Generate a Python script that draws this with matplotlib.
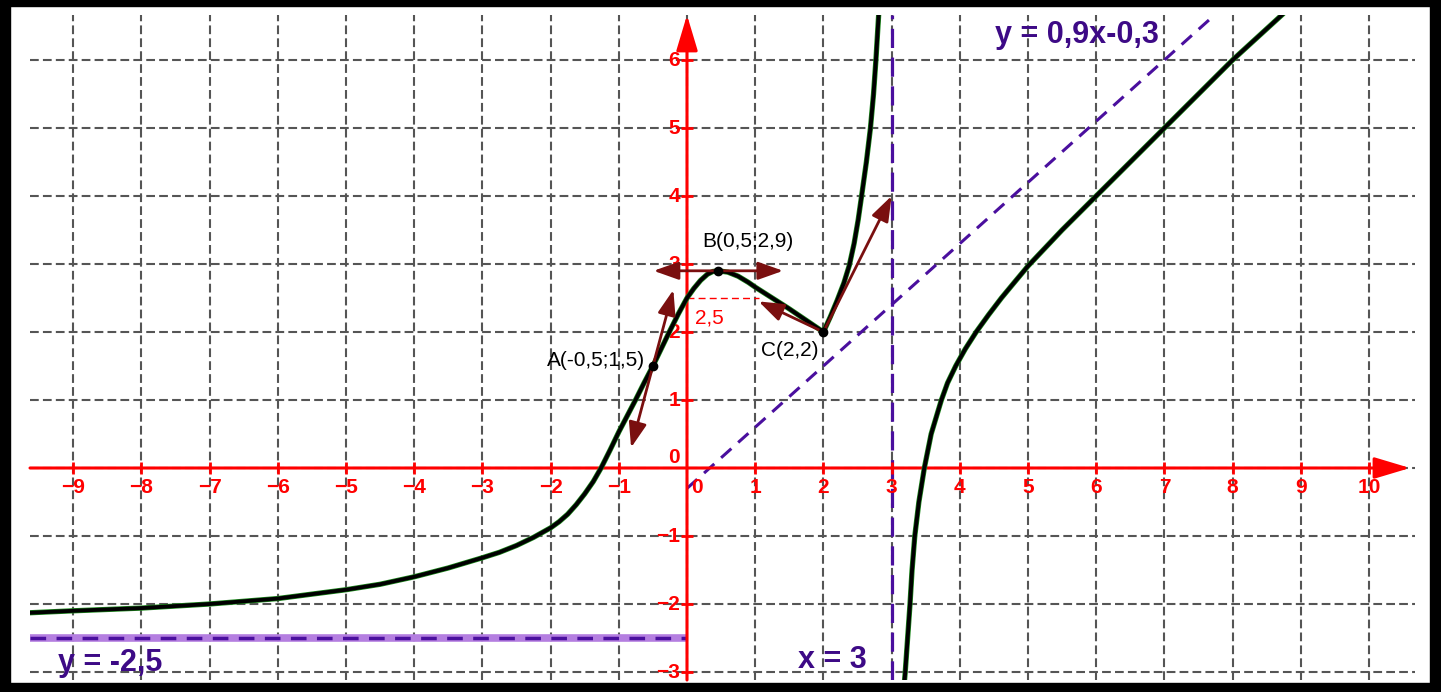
import matplotlib.pyplot as plt
from matplotlib.patches import Rectangle

plt.rcParams['font.family'] = ['Liberation Sans', 'DejaVu Sans']

# DATOS LEIDOS DE LA FIGURA
# rama izquierda de f (x < 3)
x_izq = [-9.66, -9, -8, -7, -6, -5, -4.5, -4, -3.5, -3, -2.75, -2.5, -2.25, -2,
         -1.875, -1.75, -1.625, -1.5, -1.375, -1.26, -1.125, -1.0, -0.875, -0.75,
         -0.625, -0.5, -0.375, -0.25, -0.125, 0, 0.1, 0.2, 0.3, 0.38, 0.46, 0.6,
         0.75, 0.9, 1.0, 1.25, 1.5, 1.75, 2.0,
         2.1, 2.2, 2.3, 2.38, 2.45, 2.51, 2.56, 2.63, 2.69, 2.735, 2.77, 2.81]
y_izq = [-2.13, -2.10, -2.06, -2.00, -1.92, -1.79, -1.71, -1.60, -1.47, -1.32,
         -1.24, -1.14, -1.02, -0.88, -0.79, -0.68, -0.54, -0.38, -0.20, 0.0,
         0.27, 0.53, 0.77, 1.01, 1.26, 1.5, 1.76, 2.02, 2.27, 2.5, 2.64, 2.76,
         2.85, 2.89, 2.9, 2.88, 2.82, 2.73, 2.66, 2.5, 2.34, 2.17, 2.0,
         2.22, 2.46, 2.72, 2.98, 3.3, 3.65, 4.0, 4.5, 5.0, 5.5, 6.0, 6.66]
# rama derecha (x > 3)
x_der = [3.19, 3.20, 3.235, 3.27, 3.30, 3.34, 3.40, 3.48, 3.58, 3.73, 3.82, 3.94,
         4.08, 4.24, 4.42, 4.61, 4.80, 5.0, 5.5, 6.0, 7.0, 8.0, 8.72]
y_der = [-3.12, -3.0, -2.5, -2.0, -1.5, -1.0, -0.5, 0.0, 0.5, 1.0, 1.25, 1.5,
         1.75, 2.0, 2.25, 2.5, 2.73, 2.97, 3.5, 4.0, 5.0, 6.0, 6.66]

# puntos notables
pts_x = [-0.5, 0.46, 2.0]
pts_y = [1.5, 2.9, 2.0]
pts_txt = ["A(-0,5;1,5)", "B(0,5;2,9)", "C(2,2)"]

# tangentes: (origen, punta)
tangentes = [((-0.5, 1.5), (-0.2, 2.62)), ((-0.5, 1.5), (-0.82, 0.3)),
             ((0.46, 2.9), (-0.49, 2.9)), ((0.46, 2.9), (1.41, 2.9)),
             ((2.0, 2.0), (1.05, 2.45)), ((2.0, 2.0), (3.0, 4.0))]

# asintotas
asint_v = 3
asint_h = -2.5
m_obl, b_obl = 0.9, -0.3
corte_y = 2.5

xticks = [i for i in range(-9, 11) if i != 0]
yticks = [i for i in range(-3, 7) if i != 0]

W, H = 1441, 692
xmin, xmax = (30 - 687) / 68.2, (1415 - 687) / 68.2
ymin, ymax = (468 - 680) / 68.0, (468 - 15) / 68.0

morado = '#4a0f9e'
morado_txt = '#3d0a86'
rojo = '#ff0000'
tang = '#7a0f0f'

fig = plt.figure(figsize=(W / 100, H / 100), dpi=100)
ax = fig.add_axes([30 / W, 12 / H, 1385 / W, 665 / H])
ax.set_xlim(xmin, xmax)
ax.set_ylim(ymin, ymax)

# CUADRICULA
ax.set_xticks(range(-9, 11))
ax.set_yticks(range(-3, 7))
ax.grid(True, color='#555555', lw=1.5, ls=(0, (4.2, 2.0)))
ax.tick_params(length=0, labelbottom=False, labelleft=False)
for s in ax.spines.values():
    s.set_visible(False)

# EJES
flecha = dict(arrowstyle='-|>,head_length=1.1,head_width=0.33', color=rojo,
              lw=2.2, mutation_scale=20, shrinkA=0, shrinkB=0)
ax.annotate('', xy=((1410 - 687) / 68.2, 0), xytext=(xmin, 0), arrowprops=flecha, zorder=3)
ax.annotate('', xy=(0, ymax), xytext=(0, ymin), arrowprops=flecha, zorder=3)
ax.plot(xticks, [0] * len(xticks), ls='', marker='|', ms=8, mew=2, color=rojo, zorder=3)
ax.plot([0] * len(yticks), yticks, ls='', marker='_', ms=8, mew=2, color=rojo, zorder=3)

for t in xticks:
    ax.text(t, -0.29, str(t).replace('-', '\u2212'), color=rojo, fontsize=15,
            fontweight='bold', ha='center', va='center', zorder=4)
ax.text(0.15, -0.29, '0', color=rojo, fontsize=15, fontweight='bold',
        ha='center', va='center', zorder=4)
for t in yticks:
    ax.text(-0.1, t, str(t).replace('-', '\u2212'), color=rojo, fontsize=15,
            fontweight='bold', ha='right', va='center', zorder=4)
ax.text(-0.1, 0.16, '0', color=rojo, fontsize=15, fontweight='bold',
        ha='right', va='center', zorder=4)

# ASINTOTAS
ax.axvline(asint_v, color=morado, lw=2.3, ls=(0, (6, 3)), zorder=2)
ax.plot([xmin, 0], [asint_h, asint_h], color='#b47ee0', lw=5.5, zorder=2,
        solid_capstyle='butt')
ax.plot([xmin, 0], [asint_h, asint_h], color=morado, lw=2.5, ls=(0, (4.5, 3)), zorder=2)
x_obl = [0, (ymax - b_obl) / m_obl]
ax.plot(x_obl, [m_obl * v + b_obl for v in x_obl], color=morado, lw=2.2,
        ls=(0, (4.5, 3)), zorder=2)

ax.text((995 - 687) / 68.2, (468 - 35) / 68.0, 'y = 0,9x-0,3', color=morado_txt,
        fontsize=22, fontweight='bold', ha='left', va='center')
ax.text((58 - 687) / 68.2, (468 - 663) / 68.0, 'y = -2,5', color=morado_txt,
        fontsize=22, fontweight='bold', ha='left', va='center')
ax.text((798 - 687) / 68.2, (468 - 660) / 68.0, 'x = 3', color=morado_txt,
        fontsize=22, fontweight='bold', ha='left', va='center')

# LINEA y = 2,5
ax.plot([0, tangentes[4][1][0]], [corte_y, corte_y], color=rojo, lw=1,
        ls=(0, (5, 3)), zorder=3)
ax.annotate('2,5', xy=(0, corte_y), xytext=(22, -20), textcoords='offset pixels',
            color=rojo, fontsize=15, ha='center', va='center')

# FUNCION
for xs, ys in [(x_izq, y_izq), (x_der, y_der)]:
    ax.plot(xs, ys, color='#1e8a1e', lw=3.8, zorder=5, solid_joinstyle='round')
    ax.plot(xs, ys, color='black', lw=2.8, zorder=6, solid_joinstyle='round')

# TANGENTES
for (p0, p1) in tangentes:
    ax.annotate('', xy=p1, xytext=p0,
                arrowprops=dict(arrowstyle='-|>,head_length=0.9,head_width=0.32',
                                color=tang, lw=2, mutation_scale=17,
                                shrinkA=0, shrinkB=0), zorder=7)

# PUNTOS
ax.plot(pts_x, pts_y, 'o', color='black', ms=6, zorder=8)
offsets = [(-8, 5), (30, 29), (-34, -19)]
alins = ['right', 'center', 'center']
for xp, yp, t, off, ha in zip(pts_x, pts_y, pts_txt, offsets, alins):
    ax.annotate(t, xy=(xp, yp), xytext=off, textcoords='offset pixels',
                fontsize=15, color='black', ha=ha, va='center', zorder=9)

# MARCO NEGRO
for (x0, y0, w, h) in [(0, 0, 10, H), (1430, 0, 11, H), (0, H - 6, W, 6), (0, 0, W, 9)]:
    fig.add_artist(Rectangle((x0 / W, y0 / H), w / W, h / H, transform=fig.transFigure,
                             color='black', zorder=10))

fig.savefig('out.png', dpi=100, facecolor='white')
